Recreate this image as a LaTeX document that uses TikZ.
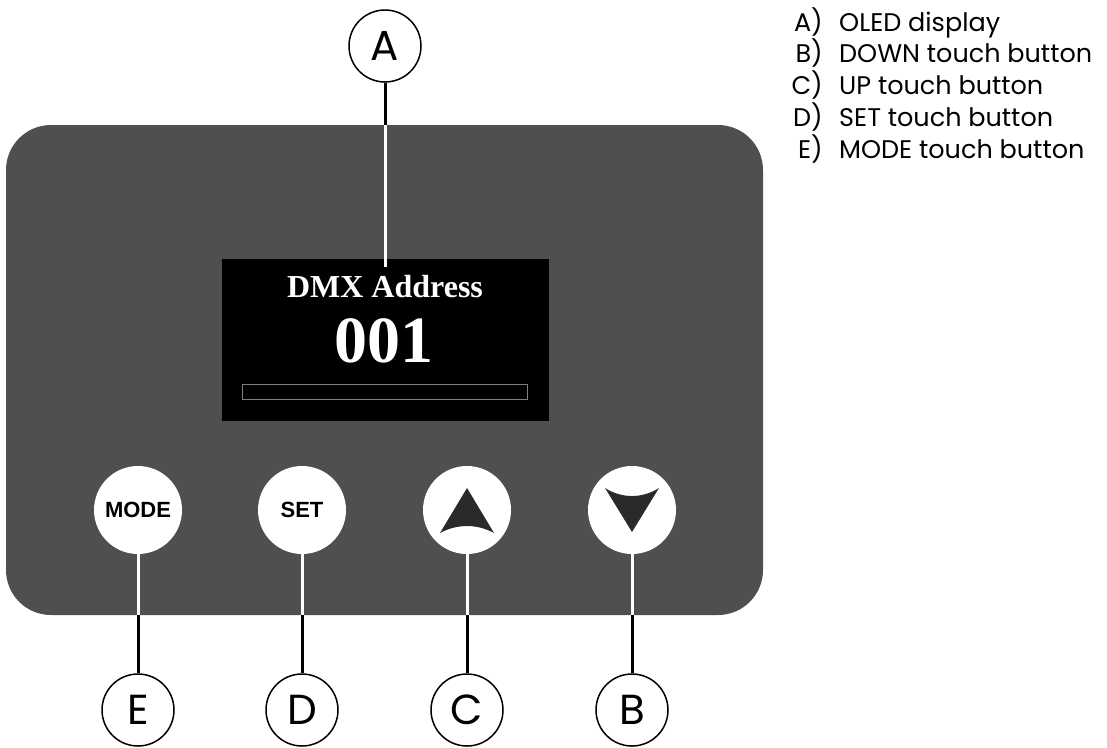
\documentclass[tikz,border=0pt]{standalone}
\usepackage{fontspec}
\usepackage{xcolor}
\usepackage{tikz}
\usetikzlibrary{positioning,calc}
\newfontfamily\gothicfont{Poppins}
\newfontfamily\dispfont{Liberation Serif}
\newfontfamily\keyfont{Liberation Sans}
\definecolor{panelgray}{HTML}{4F4F4F}
\definecolor{arrowgray}{HTML}{2B2A28}
\definecolor{bargray}{HTML}{808080}
\tikzset{
  callout/.style={circle, draw=black, line width=1.5pt, fill=white, minimum size=72pt, inner sep=0pt,
    font=\gothicfont\fontsize{42}{42}\selectfont},
  touchkey/.style={circle, fill=white, minimum size=88pt, inner sep=0pt,
    font=\keyfont\bfseries\fontsize{22}{22}\selectfont},
  leadout/.style={line width=3pt, black},
  leadin/.style={line width=3pt, white},
  legend/.style={inner sep=0pt, font=\gothicfont\fontsize{25.5}{25.5}\selectfont}
}

\begin{document}
\begin{tikzpicture}[x=1pt,y=-1pt]
    \useasboundingbox (0,0) rectangle (1107,747);
    % Housing
    \fill[panelgray, rounded corners=45pt] (6,125) rectangle (763,615);
    \coordinate (rimtop) at (0,125);
    \coordinate (rimbottom) at (0,615);
    % OLED display
    \node[fill=black, minimum width=327pt, minimum height=162pt, inner sep=0pt] (oled) at (385,340) {};
    \draw[bargray, line width=1pt] (242,384) rectangle (527,399);
    \node[white, inner sep=0pt, anchor=base, font=\dispfont\bfseries\fontsize{32}{32}\selectfont] (title) at (385,297) {DMX Address};
    \node[white, inner sep=0pt, anchor=base, font=\dispfont\bfseries\fontsize{66}{66}\selectfont] (addr) at (384,362) {001};
    % Touch buttons
    \node[touchkey] (mode) at (138,510) {MODE};
    \node[touchkey] (set) at (302,510) {SET};
    \node[touchkey] (up) at (467,510) {};
    \node[touchkey] (down) at (632,510) {};
    \fill[arrowgray] ([shift={(0,-22)}]up.center) -- ([shift={(27,23)}]up.center)
        .. controls ([shift={(10,13.7)}]up.center) and ([shift={(-10,13.7)}]up.center) .. ([shift={(-27,23)}]up.center) -- cycle;
    \fill[arrowgray] ([shift={(0,22)}]down.center) -- ([shift={(27,-22)}]down.center)
        .. controls ([shift={(10,-11.3)}]down.center) and ([shift={(-10,-11.3)}]down.center) .. ([shift={(-27,-22)}]down.center) -- cycle;
    % Callouts
    \node[callout] (A) at (385,46) {A};
    \node[callout] (E) at (138,710) {E};
    \node[callout] (D) at (302,710) {D};
    \node[callout] (C) at (467,710) {C};
    \node[callout] (B) at (632,710) {B};
    \coordinate (rimA) at (A |- rimtop);
    \draw[leadout] (A.south) -- (rimA);
    \draw[leadin] (rimA) -- ([yshift=-8pt]oled.north);
    \foreach \k/\c in {mode/E, set/D, up/C, down/B} {
        \coordinate (rim\c) at (\k |- rimbottom);
        \draw[leadin] (\k.south) -- (rim\c);
        \draw[leadout] (rim\c) -- (\c.north);
    }
    % Legend
    \foreach \lab/\txt [count=\i from 0] in {A/OLED display, B/DOWN touch button, C/UP touch button, D/SET touch button, E/MODE touch button} {
        \node[legend, anchor=base east] (key\lab) at (823,{31+31.8*\i}) {\lab)};
        \node[legend, anchor=base west] (item\lab) at (839,{31+31.8*\i}) {\txt};
    }
\end{tikzpicture}
\end{document}
